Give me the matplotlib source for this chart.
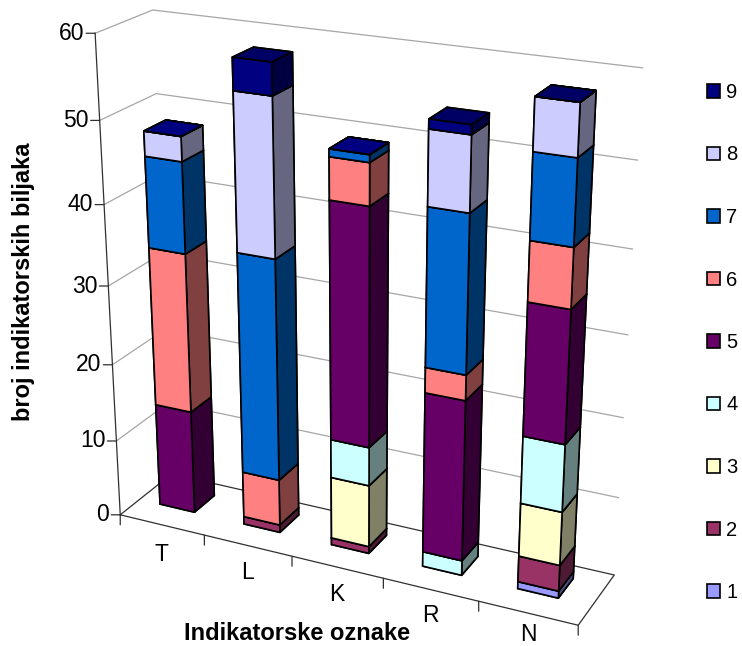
import numpy as np
import matplotlib
matplotlib.use('Agg')
import matplotlib.pyplot as plt
from matplotlib.patches import Patch
from mpl_toolkits.mplot3d import proj3d

plt.rcParams['font.family'] = ['Liberation Sans', 'DejaVu Sans']

categories = ['T', 'L', 'K', 'R', 'N']
series_names = ['1', '2', '3', '4', '5', '6', '7', '8', '9']
series_colors = ['#9999FF', '#993366', '#FFFFCC', '#CCFFFF', '#660066',
                 '#FF8080', '#0066CC', '#CCCCFF', '#000080']

# one row per series, one column per category
s1 = [0, 0, 0, 0, 0.9]
s2 = [0, 1, 0.9, 0, 3.3]
s3 = [0, 0, 8, 0, 6.7]
s4 = [0, 0, 4.9, 1.9, 8.3]
s5 = [13.5, 0, 29.3, 20.2, 15.9]
s6 = [20.2, 6, 5, 3.1, 7]
s7 = [11.2, 28, 0.9, 18.9, 9.8]
s8 = [3, 19.1, 0, 8.7, 5.9]
s9 = [0, 3.8, 0, 1.1, 0]
values = [s1, s2, s3, s4, s5, s6, s7, s8, s9]
z_ticks = [0, 10, 20, 30, 40, 50, 60]

bar_w = 0.415
bar_d = 0.40
bar_x = 0.455
bar_y = 0.57
label_drop = [-30, -27, -27, -26, -21]

fig = plt.figure(figsize=(7.42, 6.46), dpi=100, facecolor='white')
ax = fig.add_axes([-15.97 / 742, -39.67 / 646, 732.2 / 742, 732.2 / 646],
                  projection='3d', computed_zorder=False)
ax.set_xlim3d(0, 5, view_margin=0)
ax.set_ylim3d(0, 1, view_margin=0)
ax.set_zlim3d(0, 60, view_margin=0)
ax.set_box_aspect((4.925, 1.017, 5.0))
ax.view_init(22.103, -64.306)
ax.set_proj_type('persp', focal_length=0.493)
ax.set_axis_off()
M = ax.get_proj()


def screen(x, y, z):
    X, Y, _ = proj3d.proj_transform(x, y, z, M)
    return float(X), float(Y)


# walls and floor
for v in z_ticks[1:]:
    ax.plot([0, 0, 5], [0, 1, 1], [v, v, v], color='#a6a6a6', lw=0.9, zorder=1)
ax.plot([0, 5, 5, 0, 0], [0, 0, 1, 1, 0], [0, 0, 0, 0, 0], color='#303030', lw=0.9, zorder=2)
ax.plot([0, 0], [0, 0], [0, 60], color='#303030', lw=0.9, zorder=2)

# bars, left to right and bottom to top so nearer faces paint last
order = 10
for i in range(len(categories)):
    base = 0
    for j, col in enumerate(series_colors):
        v = values[j][i]
        if v == 0 and j != len(series_colors) - 1:
            continue
        rgb = np.array(matplotlib.colors.to_rgb(col))
        side = rgb * 0.5
        top = rgb * 0.78
        faces = [rgb, top, rgb, rgb, side, side]
        ax.bar3d(i + bar_x - bar_w / 2, bar_y - bar_d / 2, base, bar_w, bar_d, v,
                 color=faces, shade=False, edgecolor='black', linewidth=1.2, zorder=order)
        order += 1
        base += v

# value ticks and labels
for v in z_ticks:
    ax.annotate('', xy=screen(0, 0, v), xytext=(-9, 0), textcoords='offset pixels',
                annotation_clip=False,
                arrowprops=dict(arrowstyle='-', color='#303030', lw=0.9, shrinkA=0, shrinkB=0))
    ax.annotate(str(v), xy=screen(0, 0, v), xytext=(-11, 0), textcoords='offset pixels',
                ha='right', va='center', fontsize=16.5, annotation_clip=False)

# category ticks and labels
for i in range(len(categories) + 1):
    ax.annotate('', xy=screen(i, 0, 0), xytext=(0, -10), textcoords='offset pixels',
                annotation_clip=False,
                arrowprops=dict(arrowstyle='-', color='#303030', lw=0.9, shrinkA=0, shrinkB=0))
for i, name in enumerate(categories):
    ax.annotate(name, xy=screen(i + 0.5, 0, 0), xytext=(0, label_drop[i]), textcoords='offset pixels',
                ha='center', va='center', fontsize=16.5, annotation_clip=False)

fig.text(24 / 742, 1 - 282 / 646, 'broj indikatorskih biljaka', rotation=90, fontsize=17,
         fontweight='bold', ha='center', va='center')
fig.text(297 / 742, 1 - 634 / 646, 'Indikatorske oznake', fontsize=17,
         fontweight='bold', ha='center', va='center')

handles = [Patch(facecolor=c, edgecolor='black', linewidth=1.2) for c in series_colors[::-1]]
fig.legend(handles, series_names[::-1], loc='center left', bbox_to_anchor=(688.5 / 742, 1 - 342.5 / 646),
           frameon=False, fontsize=14.5, labelspacing=2.16, handlelength=0.67, handleheight=0.67,
           handletextpad=0.3)

fig.savefig('out.png', dpi=100)
